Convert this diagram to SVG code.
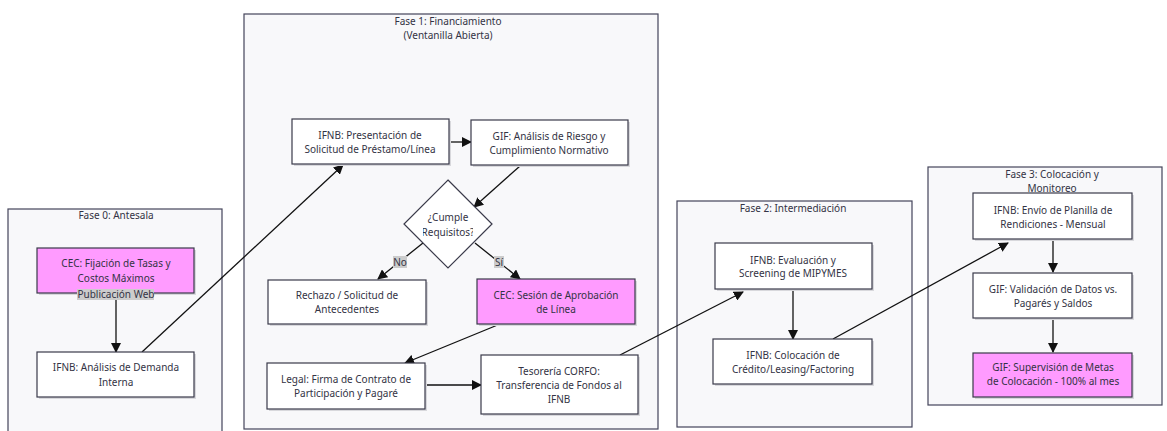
<svg xmlns="http://www.w3.org/2000/svg" width="1167" height="431" viewBox="0 0 1167 431">
<defs>
<style>
.cl{fill:#f8f8fa;stroke:#44445a;stroke-width:1.2}
.nd{fill:#ffffff;stroke:#3a3a4a;stroke-width:1.2}
.pk{fill:#ff9bff;stroke:#3a3a4a;stroke-width:1.2}
.sh{fill:#d8d8dc;stroke:none}
text{font-family:"Noto Sans","Liberation Sans",sans-serif;font-size:10px;fill:#333344;text-anchor:middle;dominant-baseline:central}
.e{fill:none;stroke:#111111;stroke-width:1.3;marker-end:url(#ah)}
.lb{fill:#cccccc}
</style>
<marker id="ah" markerWidth="10" markerHeight="10" refX="9" refY="5" orient="auto" markerUnits="userSpaceOnUse">
<path d="M0,0 L10,5 L0,10 z" fill="#111111"/>
</marker>
<clipPath id="dc"><rect x="423" y="200" width="50" height="50"/></clipPath>
</defs>
<rect width="1167" height="431" fill="#ffffff"/>

<g id="fase0">
<rect class="cl" x="8" y="209" width="214" height="240"/>
<text x="116" y="215">Fase 0: Antesala</text>
</g>
<g id="fase1">
<rect class="cl" x="244" y="14" width="414" height="415"/>
<text x="448" y="21">Fase 1: Financiamiento</text>
<text x="448" y="35">(Ventanilla Abierta)</text>
</g>
<g id="fase2">
<rect class="cl" x="677" y="201" width="235" height="226"/>
<text x="793" y="208">Fase 2: Intermediación</text>
</g>
<g id="fase3">
<rect class="cl" x="928" y="167" width="234" height="238"/>
<text x="1052" y="174">Fase 3: Colocación y</text>
<text x="1052" y="188">Monitoreo</text>
</g>

<g id="connectors">
<line class="e" x1="116" y1="299" x2="116" y2="352"/>
<line class="e" x1="142" y1="352" x2="343" y2="165"/>
<line class="e" x1="449" y1="142" x2="471" y2="142"/>
<line class="e" x1="520" y1="166" x2="474" y2="207"/>
<line class="e" x1="423" y1="243" x2="378" y2="279"/>
<line class="e" x1="475" y1="243" x2="520" y2="279"/>
<line class="e" x1="500" y1="324" x2="405" y2="363"/>
<line class="e" x1="425" y1="385" x2="481" y2="385"/>
<line class="e" x1="620" y1="355" x2="743" y2="292"/>
<line class="e" x1="793" y1="289" x2="793" y2="339"/>
<line class="e" x1="833" y1="339" x2="1008" y2="243"/>
<line class="e" x1="1053" y1="239" x2="1053" y2="272"/>
<line class="e" x1="1053" y1="318" x2="1053" y2="352"/>
<rect class="lb" x="393" y="256" width="14" height="12"/>
<text x="400" y="262">No</text>
<rect class="lb" x="494" y="256" width="10" height="12"/>
<text x="499" y="262">Sí</text>
</g>

<g id="n_cec_tasas">
<rect class="sh" x="39" y="250" width="157" height="45"/>
<rect class="pk" x="37" y="248" width="157" height="45"/>
<text x="116" y="263">CEC: Fijación de Tasas y</text>
<text x="116" y="278">Costos Máximos</text>
<rect class="lb" x="77" y="289" width="77" height="11"/>
<text x="116" y="294">Publicación Web</text>
</g>
<g id="n_ifnb_analisis">
<rect class="sh" x="39" y="354" width="157" height="45"/>
<rect class="nd" x="37" y="352" width="157" height="45"/>
<text x="116" y="367">IFNB: Análisis de Demanda</text>
<text x="116" y="382">Interna</text>
</g>
<g id="n_presentacion">
<rect class="sh" x="294" y="121" width="157" height="45"/>
<rect class="nd" x="292" y="119" width="157" height="45"/>
<text x="370" y="135">IFNB: Presentación de</text>
<text x="370" y="149">Solicitud de Préstamo/Línea</text>
</g>
<g id="n_gif_analisis">
<rect class="sh" x="473" y="122" width="157" height="45"/>
<rect class="nd" x="471" y="120" width="157" height="45"/>
<text x="549" y="136">GIF: Análisis de Riesgo y</text>
<text x="549" y="150">Cumplimiento Normativo</text>
</g>
<g id="n_decision">
<polygon class="nd" points="448,180 492,224 448,268 404,224"/>
<g clip-path="url(#dc)">
<text x="448" y="217">¿Cumple</text>
<text x="448" y="232">Requisitos?</text>
</g>
</g>
<g id="n_rechazo">
<rect class="sh" x="270" y="282" width="158" height="44"/>
<rect class="nd" x="268" y="280" width="158" height="44"/>
<text x="347" y="295">Rechazo / Solicitud de</text>
<text x="347" y="309">Antecedentes</text>
</g>
<g id="n_cec_sesion">
<rect class="sh" x="479" y="281" width="158" height="45"/>
<rect class="pk" x="477" y="279" width="158" height="45"/>
<text x="556" y="295">CEC: Sesión de Aprobación</text>
<text x="556" y="309">de Línea</text>
</g>
<g id="n_legal">
<rect class="sh" x="269" y="365" width="158" height="46"/>
<rect class="nd" x="267" y="363" width="158" height="46"/>
<text x="346" y="379">Legal: Firma de Contrato de</text>
<text x="346" y="393">Participación y Pagaré</text>
</g>
<g id="n_tesoreria">
<rect class="sh" x="483" y="357" width="157" height="59"/>
<rect class="nd" x="481" y="355" width="157" height="59"/>
<text x="559" y="371">Tesorería CORFO:</text>
<text x="559" y="385">Transferencia de Fondos al</text>
<text x="559" y="399">IFNB</text>
</g>
<g id="n_evaluacion">
<rect class="sh" x="717" y="245" width="157" height="46"/>
<rect class="nd" x="715" y="243" width="157" height="46"/>
<text x="793" y="260">IFNB: Evaluación y</text>
<text x="793" y="273">Screening de MIPYMES</text>
</g>
<g id="n_colocacion">
<rect class="sh" x="715" y="341" width="159" height="45"/>
<rect class="nd" x="713" y="339" width="159" height="45"/>
<text x="793" y="355">IFNB: Colocación de</text>
<text x="793" y="369">Crédito/Leasing/Factoring</text>
</g>
<g id="n_envio">
<rect class="sh" x="975" y="195" width="159" height="46"/>
<rect class="nd" x="973" y="193" width="159" height="46"/>
<text x="1053" y="210">IFNB: Envío de Planilla de</text>
<text x="1053" y="224">Rendiciones - Mensual</text>
</g>
<g id="n_validacion">
<rect class="sh" x="975" y="275" width="159" height="45"/>
<rect class="nd" x="973" y="273" width="159" height="45"/>
<text x="1053" y="289">GIF: Validación de Datos vs.</text>
<text x="1053" y="303">Pagarés y Saldos</text>
</g>
<g id="n_supervision">
<rect class="sh" x="975" y="355" width="159" height="44"/>
<rect class="pk" x="973" y="353" width="159" height="44"/>
<text x="1053" y="367">GIF: Supervisión de Metas</text>
<text x="1053" y="381">de Colocación - 100% al mes</text>
</g>
</svg>
